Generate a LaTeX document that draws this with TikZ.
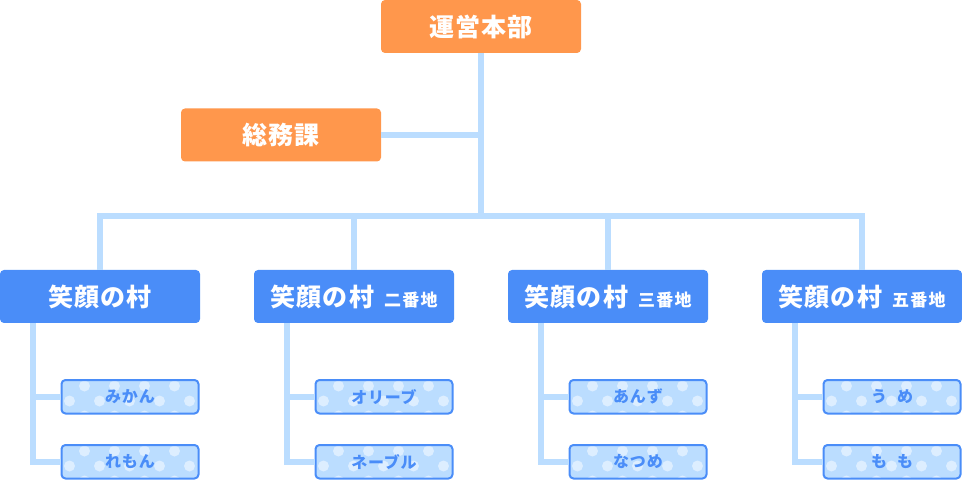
\documentclass[tikz,border=0pt]{standalone}
\usepackage{fontspec}
\setmainfont{Noto Sans CJK JP}
\definecolor{orangeb}{HTML}{FF974C}
\definecolor{blueb}{HTML}{4A8DF8}
\definecolor{linec}{HTML}{BBDDFF}
\definecolor{smallfill}{HTML}{BBDDFF}
\definecolor{dotc}{HTML}{DDEEFF}
\newcommand{\bigtxt}{\fontsize{25}{25}\selectfont\addfontfeatures{LetterSpace=5}}
\newcommand{\subtxt}{\fontsize{17}{17}\selectfont\addfontfeatures{LetterSpace=8}}
\begin{document}
\begin{tikzpicture}[x=1pt,y=-1pt,
  headbox/.style={fill=orangeb, rounded corners=4pt, minimum width=200pt, minimum height=53pt, inner sep=0pt, text=white, font=\bfseries\bigtxt},
  village/.style={fill=blueb, rounded corners=4pt, minimum width=200pt, minimum height=53pt, inner sep=0pt, text=white, font=\bfseries},
  smallbox/.style={draw=blueb, line width=2pt, fill=smallfill, rounded corners=4pt, minimum width=137pt, minimum height=33.5pt, inner sep=0pt, text=blueb, font=\bfseries\fontsize{16}{16}\selectfont\addfontfeatures{LetterSpace=5},
    path picture={
      \foreach \dx in {23,53,83,113} {
        \fill[dotc] ([shift={(\dx pt,-6pt)}]path picture bounding box.north west) circle (5.5pt);
        \fill[dotc] ([shift={(\dx pt,-36pt)}]path picture bounding box.north west) circle (5.5pt);
      }
      \foreach \dx in {8,38,68,98,128} {
        \fill[dotc] ([shift={(\dx pt,-21pt)}]path picture bounding box.north west) circle (5.5pt);
      }
    }},
  conn/.style={draw=linec, line width=6pt}]
\useasboundingbox (0,0) rectangle (962,481);

\node[headbox] (hq) at (481,26.5) {運営本部};
\node[headbox] (gen) at (281,135) {総務課};

\node[village] (v1) at (100,296.5) {\bigtxt 笑顔の村};
\node[village] (v2) at (354,296.5) {\bigtxt 笑顔の村\hspace{10pt}\subtxt 二番地};
\node[village] (v3) at (608,296.5) {\bigtxt 笑顔の村\hspace{10pt}\subtxt 三番地};
\node[village] (v4) at (862,296.5) {\bigtxt 笑顔の村\hspace{10pt}\subtxt 五番地};

\foreach \i/\xv/\a/\b in {1/0/みかん/れもん, 2/254/オリーブ/ネーブル, 3/508/あんず/なつめ, 4/762/う\hspace{10pt}め/も\hspace{10pt}も} {
  \node[smallbox] (s\i a) at (\xv+130,396.75) {\a};
  \node[smallbox] (s\i b) at (\xv+130,461.75) {\b};
  \draw[conn] ([xshift=-67pt]v\i.south) -- ([xshift=-67pt]v\i.south |- s\i b.west) -- (s\i b.west);
  \draw[conn] ([xshift=-67pt]v\i.south |- s\i a.west) -- (s\i a.west);
}

\coordinate (bar) at (481,216);
\draw[conn] (hq.south) -- (bar);
\draw[conn] (gen.east) -- (gen.east -| hq.south);
\draw[conn] (v1.north) -- (v1.north |- bar) -- (v4.north |- bar) -- (v4.north);
\draw[conn] (v2.north) -- (v2.north |- bar);
\draw[conn] (v3.north) -- (v3.north |- bar);
\end{tikzpicture}
\end{document}
